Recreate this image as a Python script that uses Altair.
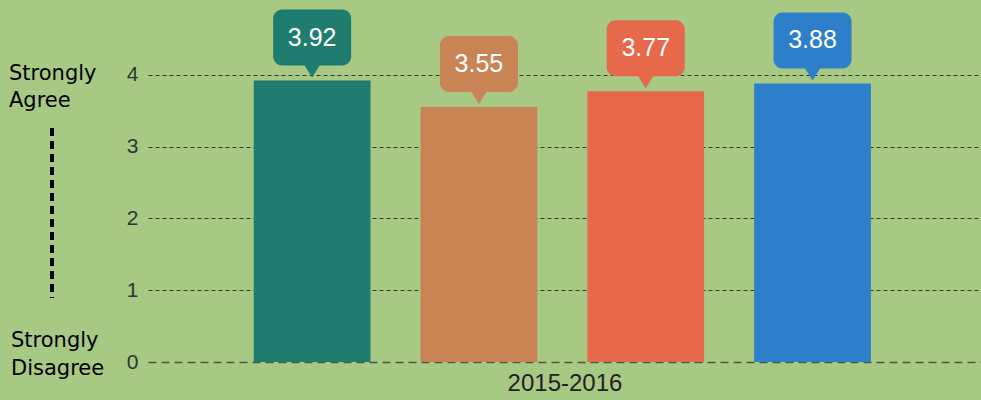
import altair as alt
import pandas as pd

series = ["Series A", "Series B", "Series C", "Series D"]
values = [3.92, 3.55, 3.77, 3.88]
labels = ["3.92", "3.55", "3.77", "3.88"]
colors = ["#1f7d6f", "#c98455", "#e6694b", "#2e7fc9"]
period = "2015-2016"
y_ticks = [0, 1, 2, 3, 4]

df = pd.DataFrame({"series": series, "value": values, "label": labels})

BG = "#a8c984"
FONT = "Liberation Sans"
ANN_FONT = "DejaVu Sans"

xscale = alt.Scale(domain=series, paddingInner=0.3, paddingOuter=0.647, align=0.49)
color = alt.Color("series:N", scale=alt.Scale(domain=series, range=colors), legend=None)
yscale = alt.Scale(domain=[0, 5], nice=False)

x_enc = alt.X("series:N", scale=xscale, sort=series,
              axis=alt.Axis(title=period, labels=False, ticks=False,
                            domain=True, domainDash=[8, 5], domainColor="#4a5a40",
                            domainWidth=1.5, titleFont=FONT, titleFontSize=24,
                            titleFontWeight="normal", titleColor="#222222",
                            titlePadding=9))
y_enc = alt.Y("value:Q", scale=yscale,
              axis=alt.Axis(title=None, values=y_ticks, format="d", ticks=False, domain=False,
                            labelFont=FONT, labelFontSize=21, labelColor="#333333",
                            labelPadding=10, grid=True, gridDash=[4, 3],
                            gridColor="#2f3a28", gridWidth=1,
                            gridOpacity={"condition": {"test": "datum.value === 0", "value": 0}, "value": 1}))

bars = alt.Chart(df).mark_bar().encode(x=x_enc, y=y_enc, color=color)

box = alt.Chart(df).mark_bar(width=78, cornerRadius=9, yOffset=-71, y2Offset=-15).encode(
    x=alt.X("series:N", scale=xscale, sort=series),
    y=alt.Y("value:Q", scale=yscale),
    y2=alt.Y2("value:Q"),
    color=color,
)

pointer = alt.Chart(df).mark_point(
    shape="M-1,-0.8L1,-0.8L0,0.8Z", size=400, filled=True, opacity=1, yOffset=-11
).encode(
    x=alt.X("series:N", scale=xscale, sort=series),
    y=alt.Y("value:Q", scale=yscale),
    color=color,
)

text = alt.Chart(df).mark_text(
    font=FONT, fontSize=25, color="white", baseline="middle", align="center", yOffset=-43
).encode(
    x=alt.X("series:N", scale=xscale, sort=series),
    y=alt.Y("value:Q", scale=yscale),
    text="label:N",
)

ann_top = alt.Chart(pd.DataFrame({"pos": [4.0]})).mark_text(
    font=ANN_FONT, fontSize=21, color="#000000", align="left",
    baseline="middle", lineHeight=27, dy=-1
).encode(x=alt.value(-139), y=alt.Y("pos:Q", scale=yscale), text=alt.value(["Strongly", "Agree"]))

ann_bot = alt.Chart(pd.DataFrame({"pos": [0.0]})).mark_text(
    font=ANN_FONT, fontSize=21, color="#000000", align="left",
    baseline="middle", lineHeight=28, dy=-21
).encode(x=alt.value(-137), y=alt.Y("pos:Q", scale=yscale), text=alt.value(["Strongly", "Disagree"]))

vline = alt.Chart(pd.DataFrame({"a": [3.26], "b": [0.89]})).mark_rule(
    strokeDash=[8, 5], strokeWidth=4, color="#000000"
).encode(x=alt.value(-96), y=alt.Y("a:Q", scale=yscale), y2="b:Q")

chart = alt.layer(bars, box, pointer, text, ann_top, ann_bot, vline).properties(
    width=833, height=359,
    autosize=alt.AutoSizeParams(type="none"),
    padding={"left": 148, "top": 3, "right": 0, "bottom": 38},
    background=BG,
).configure_view(stroke=None)

chart.save("out.html", embed_options={"renderer": "svg", "actions": False})
